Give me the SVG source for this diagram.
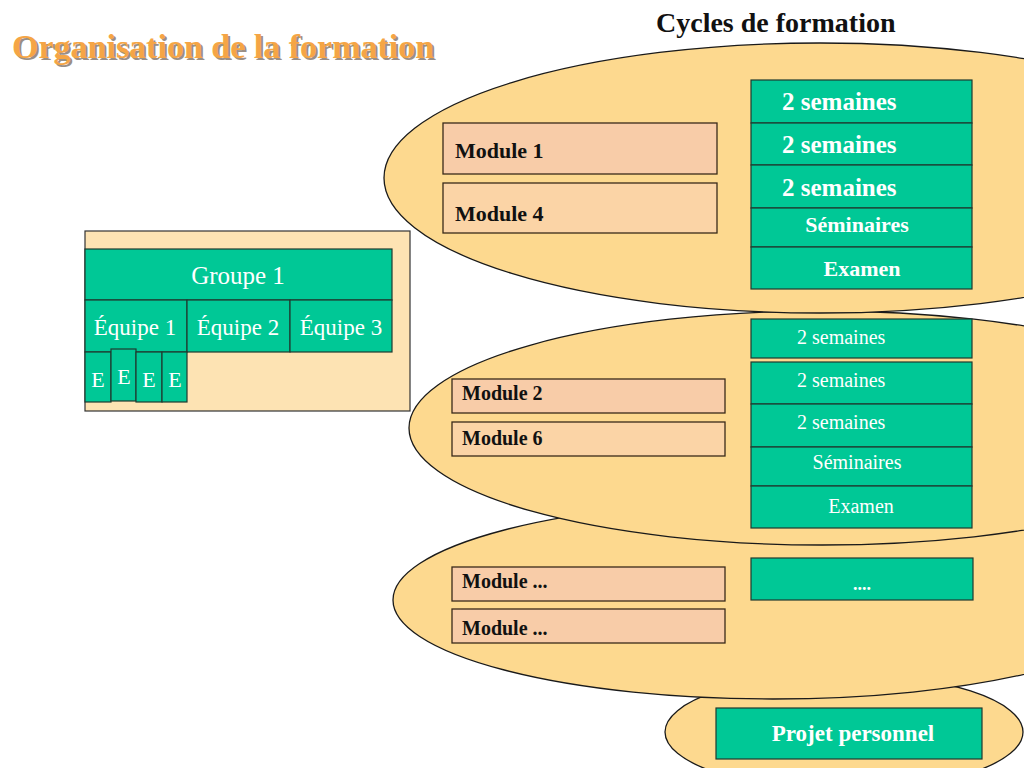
<svg xmlns="http://www.w3.org/2000/svg" width="1024" height="768" viewBox="0 0 1024 768">
<style>
.ell{fill:#FDD98F;stroke:#1a1a1a;stroke-width:1.3}
.g{fill:#00C896;stroke:#1f3a2f;stroke-width:1.2}
.m{fill:#F8CCA8;stroke:#3a2a1a;stroke-width:1.3}
.m2{fill:#FBD4A6;stroke:#3a2a1a;stroke-width:1.3}
.panel{fill:#FDE3B3;stroke:#333;stroke-width:1.2}
.tw{font-family:"Liberation Serif","Times New Roman",serif;fill:#fff}
.twb{font-family:"Liberation Serif","Times New Roman",serif;fill:#fff;font-weight:bold}
.tk{font-family:"Liberation Serif","Times New Roman",serif;fill:#111;font-weight:bold}
</style>
<rect width="1024" height="768" fill="#fff"/>
<g id="title">
<text x="14" y="60" font-family="Liberation Serif,serif" font-weight="bold" font-size="34" fill="#9a8f86">Organisation de la formation</text>
<text x="12" y="58" font-family="Liberation Serif,serif" font-weight="bold" font-size="34" fill="#F5A545">Organisation de la formation</text>
</g>
<text id="cycles" x="656" y="32" class="tk" font-size="28">Cycles de formation</text>
<g id="cycles-ellipses">
<ellipse id="ell4" class="ell" cx="844" cy="732" rx="179" ry="58"/>
<ellipse id="ell3" class="ell" cx="773" cy="600" rx="380" ry="99"/>
<ellipse id="ell2" class="ell" cx="822" cy="428" rx="413" ry="117"/>
<ellipse id="ell1" class="ell" cx="820" cy="178" rx="436" ry="135"/>
</g>
<g id="groupe-panel">
<rect class="panel" x="85" y="231" width="325" height="180"/>
<g id="groupe1"><rect class="g" x="85" y="249" width="307" height="51"/><text class="tw" x="238" y="284" font-size="25" text-anchor="middle">Groupe 1</text></g>
<g id="equipe1"><rect class="g" x="85" y="300" width="102" height="52"/><text class="tw" x="135" y="335" font-size="23" text-anchor="middle">Équipe 1</text></g>
<g id="equipe2"><rect class="g" x="187" y="300" width="103" height="52"/><text class="tw" x="238" y="335" font-size="23" text-anchor="middle">Équipe 2</text></g>
<g id="equipe3"><rect class="g" x="290" y="300" width="102" height="52"/><text class="tw" x="341" y="335" font-size="23" text-anchor="middle">Équipe 3</text></g>
<g id="e1"><rect class="g" x="85" y="352" width="26" height="50"/><text class="tw" x="98" y="387" font-size="22" text-anchor="middle">E</text></g>
<g id="e2"><rect class="g" x="111" y="349" width="25" height="52"/><text class="tw" x="124" y="384" font-size="22" text-anchor="middle">E</text></g>
<g id="e3"><rect class="g" x="136" y="352" width="26" height="50"/><text class="tw" x="149" y="387" font-size="22" text-anchor="middle">E</text></g>
<g id="e4"><rect class="g" x="162" y="352" width="25" height="50"/><text class="tw" x="175" y="387" font-size="22" text-anchor="middle">E</text></g>
</g>
<g id="cycle1">
<g id="module1"><rect class="m" x="443" y="123" width="274" height="51"/><text class="tk" x="455" y="158" font-size="22">Module 1</text></g>
<g id="module4"><rect class="m2" x="443" y="183" width="274" height="50"/><text class="tk" x="455" y="221" font-size="22">Module 4</text></g>
<g id="c1-s1"><rect class="g" x="751" y="80" width="221" height="43"/><text class="twb" x="782" y="110" font-size="25">2 semaines</text></g>
<g id="c1-s2"><rect class="g" x="751" y="123" width="221" height="42"/><text class="twb" x="782" y="153" font-size="25">2 semaines</text></g>
<g id="c1-s3"><rect class="g" x="751" y="165" width="221" height="43"/><text class="twb" x="782" y="196" font-size="25">2 semaines</text></g>
<g id="c1-sem"><rect class="g" x="751" y="208" width="221" height="39"/><text class="twb" x="857" y="232" font-size="22" text-anchor="middle">Séminaires</text></g>
<g id="c1-exam"><rect class="g" x="751" y="247" width="221" height="42"/><text class="twb" x="862" y="276" font-size="22" text-anchor="middle">Examen</text></g>
</g>
<g id="cycle2">
<g id="module2"><rect class="m" x="452" y="379" width="273" height="34"/><text class="tk" x="462" y="400" font-size="20">Module 2</text></g>
<g id="module6"><rect class="m2" x="452" y="422" width="273" height="34"/><text class="tk" x="462" y="445" font-size="20">Module 6</text></g>
<g id="c2-s1"><rect class="g" x="751" y="319" width="221" height="39"/><text class="tw" x="797" y="344" font-size="20">2 semaines</text></g>
<g id="c2-s2"><rect class="g" x="751" y="362" width="221" height="42"/><text class="tw" x="797" y="387" font-size="20">2 semaines</text></g>
<g id="c2-s3"><rect class="g" x="751" y="404" width="221" height="43"/><text class="tw" x="797" y="429" font-size="20">2 semaines</text></g>
<g id="c2-sem"><rect class="g" x="751" y="447" width="221" height="39"/><text class="tw" x="857" y="469" font-size="20" text-anchor="middle">Séminaires</text></g>
<g id="c2-exam"><rect class="g" x="751" y="486" width="221" height="42"/><text class="tw" x="861" y="513" font-size="20" text-anchor="middle">Examen</text></g>
</g>
<g id="cycle3">
<g id="module-a"><rect class="m" x="452" y="567" width="273" height="34"/><text class="tk" x="462" y="588" font-size="20">Module ...</text></g>
<g id="module-b"><rect class="m" x="452" y="609" width="273" height="34"/><text class="tk" x="462" y="635" font-size="20">Module ...</text></g>
<g id="c3-dots"><rect class="g" x="751" y="558" width="222" height="42"/><text class="twb" x="862" y="590" font-size="18" text-anchor="middle">....</text></g>
</g>
<g id="projet"><rect class="g" x="716" y="708" width="266" height="51"/><text class="twb" x="853" y="741" font-size="23" text-anchor="middle">Projet personnel</text></g>
<g id="connectors"/>
</svg>
